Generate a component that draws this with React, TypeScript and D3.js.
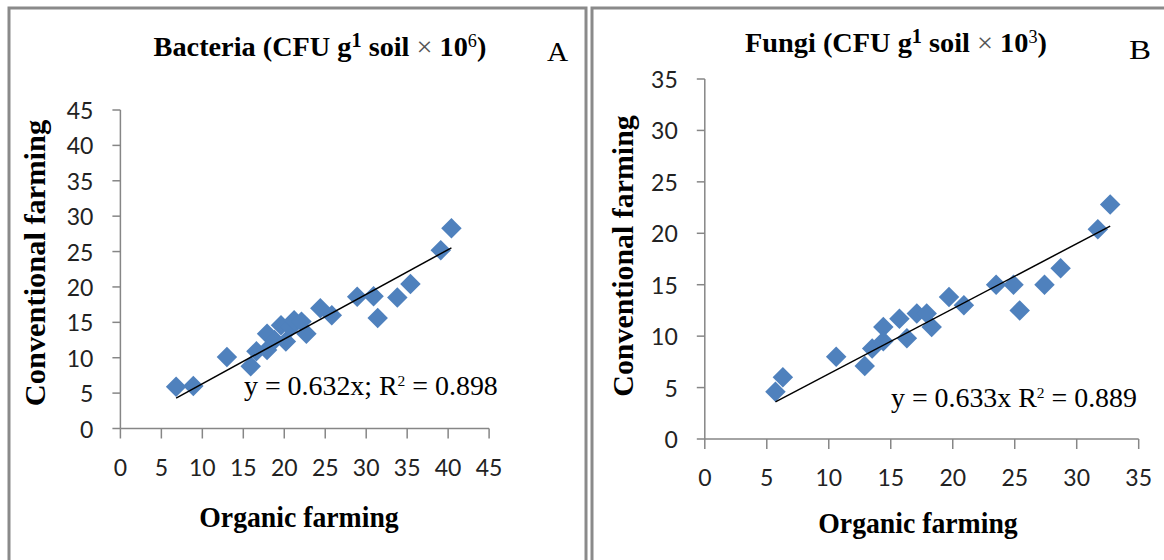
import React, { useEffect, useRef } from 'react';
import * as d3 from 'd3';

// bacteria (panel A)
const bactOrganic = [6.8, 8.9, 13.0, 15.9, 16.6, 17.9, 17.9, 18.8, 19.6, 20.2, 20.8, 21.2, 22.1, 22.7, 24.4, 25.8, 28.9, 30.9, 31.4, 33.8, 35.4, 39.1, 40.4];
const bactConventional = [5.9, 6.0, 10.1, 8.8, 10.9, 11.1, 13.4, 12.5, 14.6, 12.3, 14.3, 15.3, 15.1, 13.4, 17.0, 16.0, 18.6, 18.7, 15.6, 18.5, 20.4, 25.2, 28.3];
const bactTicks = [0, 5, 10, 15, 20, 25, 30, 35, 40, 45];
const bactSlope = 0.632;

// fungi (panel B)
const fungiOrganic = [5.7, 6.3, 10.6, 12.9, 13.5, 14.4, 14.4, 15.7, 16.3, 17.1, 17.9, 18.3, 19.7, 20.9, 23.5, 24.9, 25.4, 27.4, 28.7, 31.7, 32.7];
const fungiConventional = [4.6, 6.0, 8.0, 7.1, 8.8, 10.9, 9.5, 11.7, 9.8, 12.2, 12.2, 10.9, 13.8, 13.0, 15.0, 15.0, 12.5, 15.0, 16.6, 20.4, 22.8];
const fungiTicks = [0, 5, 10, 15, 20, 25, 30, 35];
const fungiSlope = 0.633;

const serif = '"Liberation Serif", "Times New Roman", serif';
const sans = 'Lato, "Open Sans", sans-serif';
const blue = '#4F81BD';
const axisGray = '#868686';

// squeeze/stretch a text horizontally so it covers the target width
function fit(sel, target, ax) {
  const w = sel.node().getBBox().width;
  const s = target / w;
  sel.attr('transform', `translate(${ax},0) scale(${s},1) translate(${-ax},0)`);
}

function drawPanel(svg, cfg) {
  const { xs, ys, ticks, slope, xr, yr, title, letter, eq } = cfg;
  const max = ticks[ticks.length - 1];
  const x = d3.scaleLinear().domain([0, max]).range(xr);
  const y = d3.scaleLinear().domain([0, max]).range(yr);
  const g = svg.append('g');

  // axes
  g.append('line').attr('x1', x(0)).attr('x2', x(max)).attr('y1', y(0)).attr('y2', y(0))
    .attr('stroke', axisGray).attr('stroke-width', 1.5);
  g.append('line').attr('x1', x(0)).attr('x2', x(0)).attr('y1', y(0)).attr('y2', y(max))
    .attr('stroke', axisGray).attr('stroke-width', 1.5);

  g.selectAll('.xt').data(ticks).join('line')
    .attr('x1', d => x(d)).attr('x2', d => x(d))
    .attr('y1', y(0)).attr('y2', y(0) + 10)
    .attr('stroke', axisGray).attr('stroke-width', 1.5);
  g.selectAll('.yt').data(ticks).join('line')
    .attr('x1', x(0) - 8).attr('x2', x(0))
    .attr('y1', d => y(d)).attr('y2', d => y(d))
    .attr('stroke', axisGray).attr('stroke-width', 1.5);

  g.selectAll('.xl').data(ticks).join('text')
    .attr('x', d => x(d)).attr('y', y(0) + 38)
    .attr('text-anchor', 'middle').attr('dominant-baseline', 'central')
    .style('font-family', sans).style('font-size', '23px').attr('fill', '#222')
    .text(d => d);
  g.selectAll('.yl').data(ticks).join('text')
    .attr('x', x(0) - 27).attr('y', d => y(d))
    .attr('text-anchor', 'end').attr('dominant-baseline', 'central')
    .style('font-family', sans).style('font-size', '23px').attr('fill', '#222')
    .text(d => d);

  // points
  const pts = xs.map((v, i) => [v, ys[i]]);
  g.selectAll('.pt').data(pts).join('path')
    .attr('d', d3.symbol(d3.symbolSquare, 210))
    .attr('transform', d => `translate(${x(d[0])},${y(d[1])}) rotate(45)`)
    .attr('fill', blue);

  // trend line through origin
  const ext = d3.extent(xs);
  g.append('line')
    .attr('x1', x(ext[0])).attr('y1', y(ext[0] * slope))
    .attr('x2', x(ext[1])).attr('y2', y(ext[1] * slope))
    .attr('stroke', '#000').attr('stroke-width', 1.5);

  // title
  const t = g.append('text').attr('x', title.cx).attr('y', title.y).attr('text-anchor', 'middle')
    .style('font-family', serif).style('font-size', '28px').style('font-weight', 'bold');
  t.append('tspan').text(title.name + ' (CFU g');
  t.append('tspan').attr('dy', -9).style('font-size', '20px').text('1');
  t.append('tspan').attr('dy', 9).text(' soil ');
  t.append('tspan').style('font-weight', 'normal').attr('fill', '#555').text('×');
  t.append('tspan').text(' 10');
  t.append('tspan').attr('dy', -9).style('font-size', '18px').style('font-weight', 'normal').text(title.exp);
  t.append('tspan').attr('dy', 9).text(')');
  fit(t, title.w, title.cx);

  const l = g.append('text').attr('x', letter.x).attr('y', letter.y)
    .style('font-family', serif).style('font-size', '28px').text(letter.t);
  fit(l, 22, letter.x);

  // equation
  const e = g.append('text').attr('x', eq.x).attr('y', eq.y)
    .style('font-family', serif).style('font-size', '27px');
  e.append('tspan').text(eq.a);
  e.append('tspan').attr('dy', -9).style('font-size', '15px').text('2');
  e.append('tspan').attr('dy', 9).text(eq.b);
  fit(e, eq.w, eq.x);

  // axis titles
  const xt = g.append('text').attr('x', cfg.xTitle.cx).attr('y', cfg.xTitle.y).attr('text-anchor', 'middle')
    .style('font-family', serif).style('font-size', '29px').style('font-weight', 'bold')
    .text('Organic farming');
  fit(xt, 200, cfg.xTitle.cx);

  const yg = g.append('g').attr('transform', `translate(${cfg.yTitle.x},${cfg.yTitle.cy}) rotate(-90)`);
  const yt = yg.append('text').attr('x', 0).attr('y', 0).attr('text-anchor', 'middle')
    .style('font-family', serif).style('font-size', '29px').style('font-weight', 'bold')
    .text('Conventional farming');
  fit(yt, cfg.yTitle.len, 0);
}

export default function App() {
  const ref = useRef(null);

  useEffect(() => {
    const svg = d3.select(ref.current);
    svg.selectAll('*').remove();

    svg.append('rect').attr('width', 1164).attr('height', 560).attr('fill', '#fff');
    // panel frames
    svg.append('rect').attr('x', 9).attr('y', 8).attr('width', 577).attr('height', 570)
      .attr('fill', 'none').attr('stroke', '#8a8a8a').attr('stroke-width', 3);
    svg.append('rect').attr('x', 592).attr('y', 8).attr('width', 600).attr('height', 570)
      .attr('fill', 'none').attr('stroke', '#8a8a8a').attr('stroke-width', 3);

    drawPanel(svg, {
      xs: bactOrganic, ys: bactConventional, ticks: bactTicks, slope: bactSlope,
      xr: [120.4, 489.1], yr: [428.5, 110],
      title: { name: 'Bacteria', exp: '6', cx: 320, y: 56, w: 333 },
      letter: { t: 'A', x: 547, y: 61 },
      eq: { a: 'y = 0.632x; R', b: ' = 0.898', x: 244, y: 395, w: 254 },
      xTitle: { cx: 299, y: 527 },
      yTitle: { x: 45, cy: 263, len: 287 },
    });

    drawPanel(svg, {
      xs: fungiOrganic, ys: fungiConventional, ticks: fungiTicks, slope: fungiSlope,
      xr: [704.8, 1138.7], yr: [439, 79],
      title: { name: 'Fungi', exp: '3', cx: 896, y: 52, w: 302 },
      letter: { t: 'B', x: 1129, y: 59 },
      eq: { a: 'y = 0.633x R', b: ' = 0.889', x: 891, y: 407, w: 246 },
      xTitle: { cx: 918, y: 533 },
      yTitle: { x: 633, cy: 256, len: 282 },
    });
  }, []);

  return (
    <svg ref={ref} width={1164} height={560}
      style={{ position: 'absolute', left: 0, top: 0, display: 'block' }} />
  );
}
